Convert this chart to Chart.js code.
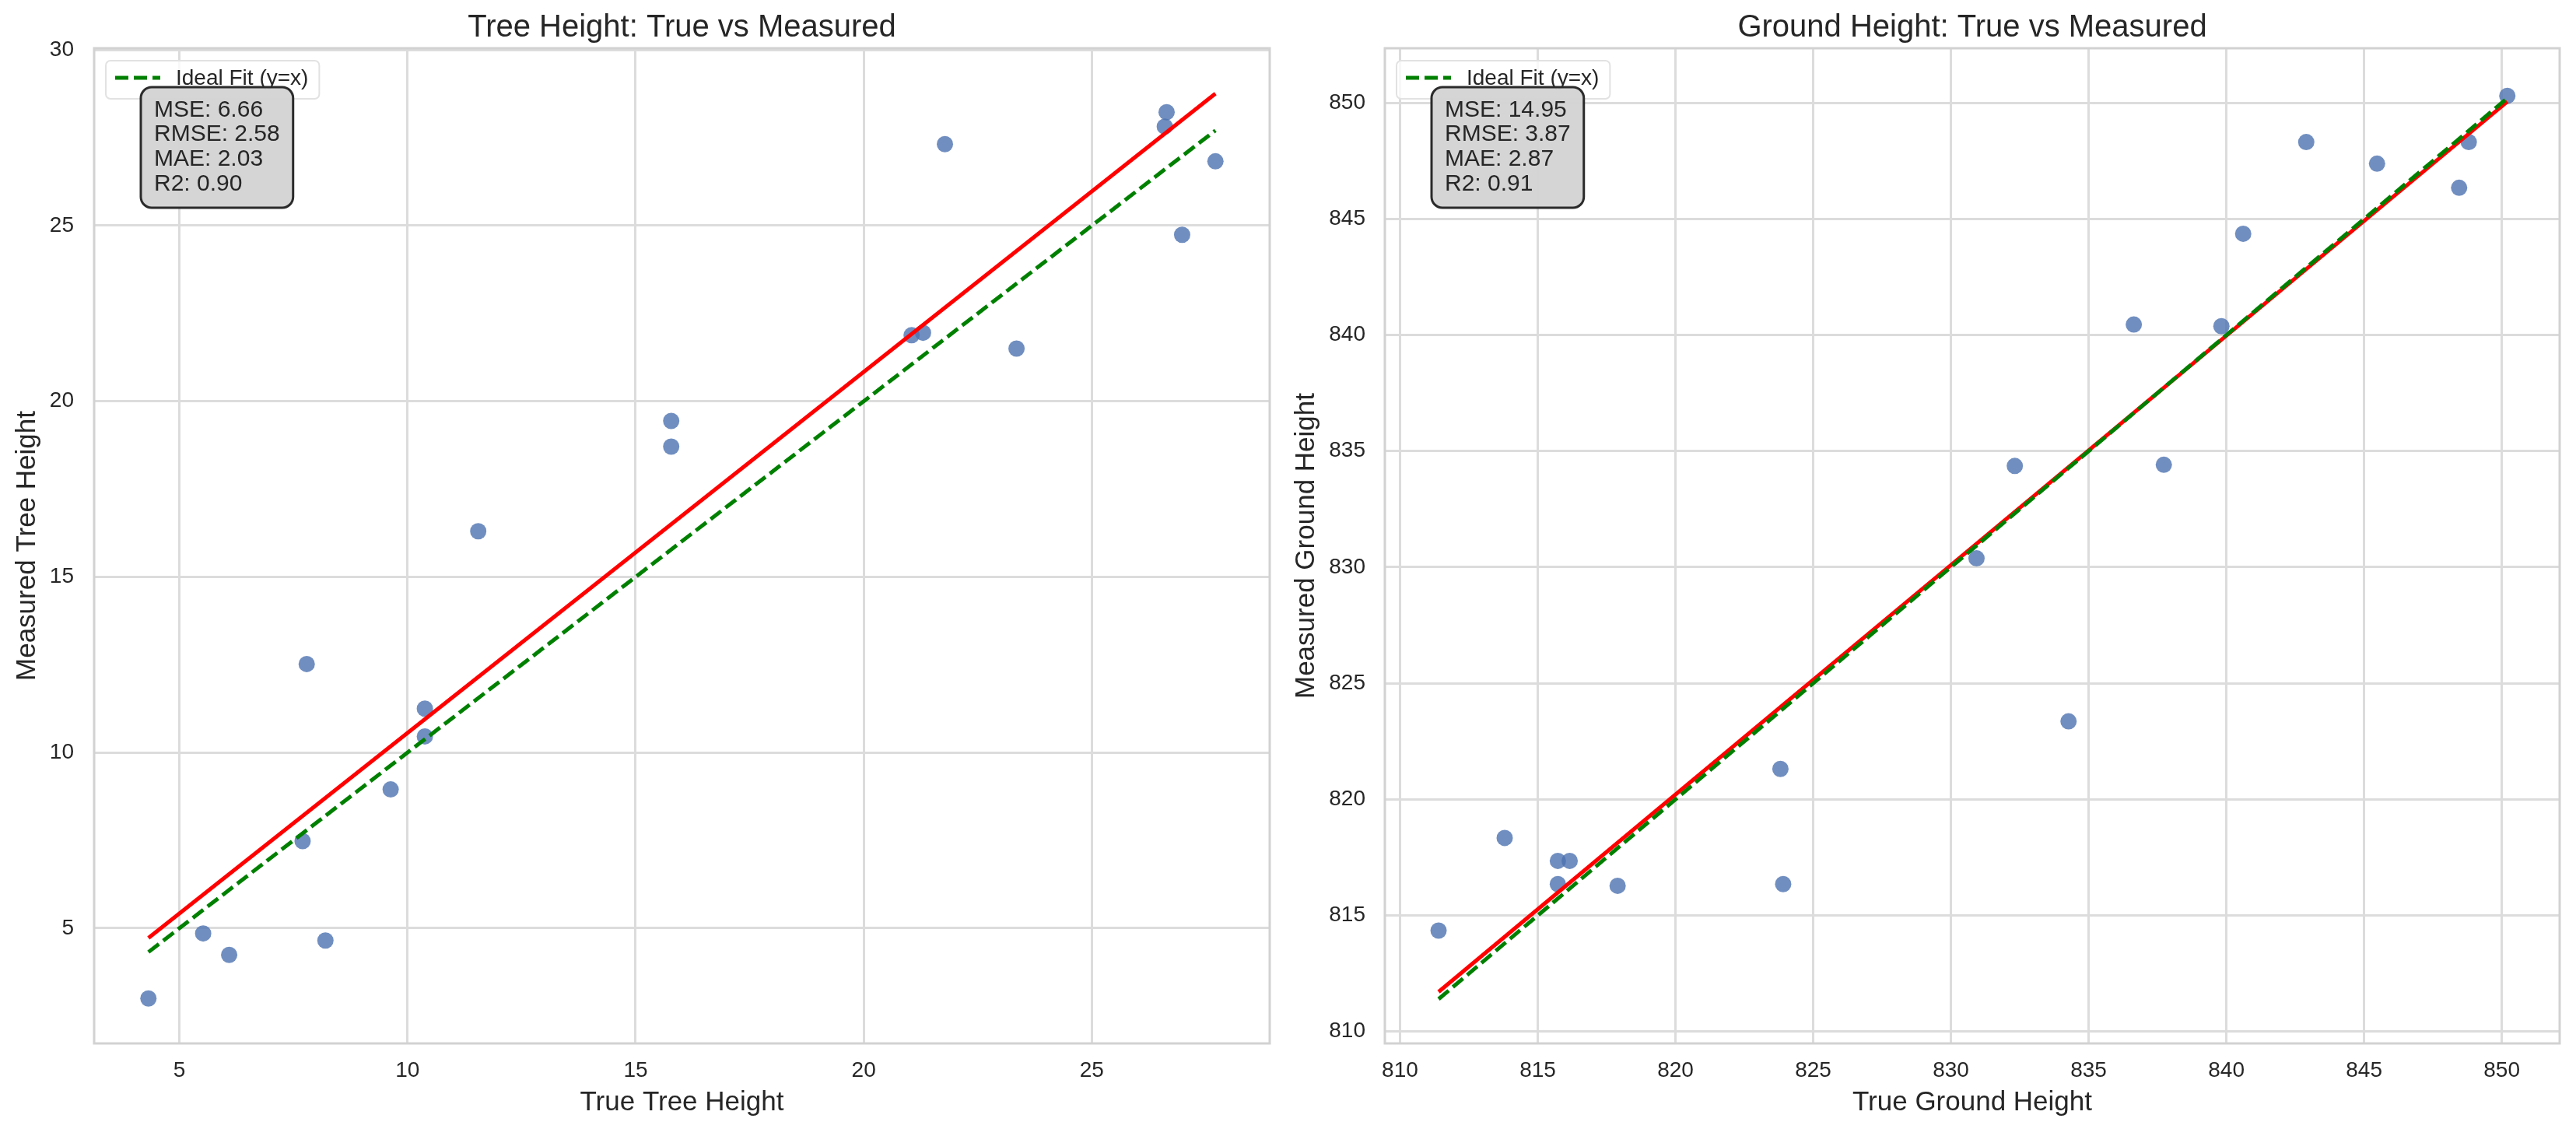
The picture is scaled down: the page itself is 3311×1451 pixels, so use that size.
<!DOCTYPE html>
<html>
<head>
<meta charset="utf-8">
<title>Tree and Ground Height: True vs Measured</title>
<script src="https://cdn.jsdelivr.net/npm/chart.js@4.4.1/dist/chart.umd.min.js"></script>
<style>
  html, body { margin: 0; padding: 0; background: #ffffff; }
  #wrap { position: relative; width: 3311px; height: 1451px; }
  canvas { position: absolute; top: 0; }
  #treeChart { left: 0; }
  #groundChart { left: 1655px; }
</style>
</head>
<body>
<div id="wrap">
  <canvas id="treeChart" width="1655" height="1451"></canvas>
  <canvas id="groundChart" width="1656" height="1451"></canvas>
</div>
<script>
// ---- Tree height panel data ----
const treeTrue = [15.78, 15.78, 11.55, 21.78, 26.64, 26.60, 27.71, 26.98, 21.05, 21.30,
                  23.35, 7.79, 10.38, 10.38, 9.63, 7.70, 5.52, 6.09, 8.20, 4.32];
const treeMeasured = [19.44, 18.71, 16.30, 27.32, 28.23, 27.82, 26.83, 24.74, 21.88, 21.95,
                      21.50, 12.52, 11.25, 10.46, 8.95, 7.48, 4.85, 4.24, 4.65, 3.00];
const treeFitX = [4.32, 27.71];
const treeFitY = [4.72, 28.76];
const treeIdeal = [4.32, 27.71];
const treeXTicks = [5, 10, 15, 20, 25];
const treeYTicks = [5, 10, 15, 20, 25, 30];
const treeStats = ['MSE: 6.66', 'RMSE: 2.58', 'MAE: 2.03', 'R2: 0.90'];

// ---- Ground height panel data ----
const groundTrue = [850.20, 842.90, 848.80, 845.47, 848.45, 840.61, 836.64, 839.82, 832.32, 837.73,
                    830.93, 823.81, 823.91, 813.80, 815.73, 816.16, 815.73, 817.90, 811.40, 834.27];
const groundMeasured = [850.30, 848.31, 848.31, 847.38, 846.34, 844.36, 840.45, 840.38, 834.36, 834.41,
                        830.38, 821.31, 816.35, 818.34, 817.35, 817.35, 816.35, 816.28, 814.35, 823.36];
const groundFitX = [811.40, 850.20];
const groundFitY = [811.71, 850.05];
const groundIdeal = [811.40, 850.20];
const groundXTicks = [810, 815, 820, 825, 830, 835, 840, 845, 850];
const groundYTicks = [810, 815, 820, 825, 830, 835, 840, 845, 850];
const groundStats = ['MSE: 14.95', 'RMSE: 3.87', 'MAE: 2.87', 'R2: 0.91'];

const FONT = "'Liberation Sans', Arial, sans-serif";
const TEXT_COLOR = '#262626';
const GRID_COLOR = '#dcdcdc';

Chart.defaults.font.family = FONT;
Chart.defaults.color = TEXT_COLOR;

/**
 * Rounded rectangle path (falls back if ctx.roundRect is missing)
 */
function roundedRect(ctx, x, y, w, h, r) {
    ctx.beginPath();
    ctx.moveTo(x + r, y);
    ctx.lineTo(x + w - r, y);
    ctx.arcTo(x + w, y, x + w, y + r, r);
    ctx.lineTo(x + w, y + h - r);
    ctx.arcTo(x + w, y + h, x + w - r, y + h, r);
    ctx.lineTo(x + r, y + h);
    ctx.arcTo(x, y + h, x, y + h - r, r);
    ctx.lineTo(x, y + r);
    ctx.arcTo(x, y, x + r, y, r);
    ctx.closePath();
}

/**
 * Draws the frame, legend box, metrics box and the panel title
 */
const panelDecor = {
    id: 'panelDecor',
    beforeDatasetsDraw(chart) {
        const { ctx, chartArea: a } = chart;
        ctx.save();
        ctx.strokeStyle = '#d2d2d2';
        ctx.lineWidth = 3;
        ctx.strokeRect(a.left, a.top, a.right - a.left, a.bottom - a.top);
        ctx.restore();
    },
    afterDatasetsDraw(chart, args, opts) {
        const { ctx, chartArea: a } = chart;
        const ideal = chart.data.datasets.find(d => d.label);

        // legend
        ctx.save();
        ctx.font = '28px ' + FONT;
        const lw = ctx.measureText(ideal.label).width;
        const lx = a.left + 15, ly = a.top + 16, lWidth = lw + 104, lHeight = 49;
        roundedRect(ctx, lx, ly, lWidth, lHeight, 6);
        ctx.fillStyle = 'rgba(255,255,255,0.8)';
        ctx.fill();
        ctx.strokeStyle = '#e2e2e2';
        ctx.lineWidth = 2;
        ctx.stroke();
        ctx.beginPath();
        ctx.setLineDash(ideal.borderDash);
        ctx.strokeStyle = ideal.borderColor;
        ctx.lineWidth = ideal.borderWidth;
        ctx.moveTo(lx + 12, ly + 22);
        ctx.lineTo(lx + 70, ly + 22);
        ctx.stroke();
        ctx.setLineDash([]);
        ctx.fillStyle = TEXT_COLOR;
        ctx.textBaseline = 'alphabetic';
        ctx.fillText(ideal.label, lx + 90, ly + 31);
        ctx.restore();

        // metrics box
        ctx.save();
        ctx.font = '30px ' + FONT;
        const sw = Math.max(...opts.stats.map(s => ctx.measureText(s).width));
        const sx = a.left + 60, sy = a.top + 50, sWidth = sw + 34, sHeight = 155;
        roundedRect(ctx, sx, sy, sWidth, sHeight, 14);
        ctx.fillStyle = 'rgba(211,211,211,0.95)';
        ctx.fill();
        ctx.strokeStyle = '#2b2b2b';
        ctx.lineWidth = 3;
        ctx.stroke();
        ctx.fillStyle = TEXT_COLOR;
        opts.stats.forEach((line, i) => {
            ctx.fillText(line, sx + 17, sy + 37.5 + i * 31.8);
        });
        ctx.restore();
    },
    afterDraw(chart, args, opts) {
        const { ctx, chartArea: a } = chart;
        ctx.save();
        ctx.font = '40px ' + FONT;
        ctx.fillStyle = TEXT_COLOR;
        ctx.textAlign = 'center';
        ctx.textBaseline = 'alphabetic';
        ctx.fillText(opts.title, (a.left + a.right) / 2, 47);
        ctx.restore();
    }
};

/**
 * Pin an axis box to a fixed size so the plot area lands where it should
 */
function fixedBox(size) {
    return function(scale) {
        if (scale.isHorizontal()) scale.height = size;
        else scale.width = size;
        scale.paddingTop = 0;
        scale.paddingBottom = 0;
        scale.paddingLeft = 0;
        scale.paddingRight = 0;
    };
}

function useTicks(values) {
    return function(scale) {
        scale.ticks = values.map(v => ({ value: v }));
    };
}

/**
 * Build one scatter panel
 */
function buildPanel(canvasId, cfg) {
    const ctx = document.getElementById(canvasId);
    return new Chart(ctx, {
        type: 'scatter',
        data: {
            datasets: [{
                label: 'Ideal Fit (y=x)',
                type: 'line',
                data: cfg.ideal.map(v => ({ x: v, y: v })),
                borderColor: 'green',
                borderWidth: 5,
                borderDash: [17, 7],
                pointRadius: 0,
                fill: false,
                order: 1
            }, {
                label: '',
                type: 'line',
                data: cfg.fitX.map((v, i) => ({ x: v, y: cfg.fitY[i] })),
                borderColor: 'red',
                borderWidth: 5,
                pointRadius: 0,
                fill: false,
                order: 2
            }, {
                label: '',
                data: cfg.xs.map((v, i) => ({ x: v, y: cfg.ys[i] })),
                backgroundColor: 'rgba(76,114,176,0.8)',
                borderWidth: 0,
                pointRadius: 10.5,
                pointHoverRadius: 10.5,
                order: 3
            }]
        },
        options: {
            responsive: false,
            animation: false,
            devicePixelRatio: 1,
            layout: { padding: { left: 0, right: cfg.padRight, top: 62, bottom: 0 } },
            plugins: {
                legend: { display: false },
                tooltip: { enabled: false },
                panelDecor: { title: cfg.title, stats: cfg.stats }
            },
            scales: {
                x: {
                    type: 'linear',
                    min: cfg.xRange[0],
                    max: cfg.xRange[1],
                    afterBuildTicks: useTicks(cfg.xTicks),
                    afterFit: fixedBox(110),
                    grid: { color: GRID_COLOR, lineWidth: 3, drawTicks: false },
                    border: { display: false },
                    ticks: { font: { size: 28 }, color: TEXT_COLOR, padding: 18, maxRotation: 0 },
                    title: {
                        display: true,
                        text: cfg.xLabel,
                        font: { size: 35 },
                        color: TEXT_COLOR,
                        padding: { top: 0, bottom: 12.5 }
                    }
                },
                y: {
                    type: 'linear',
                    min: cfg.yRange[0],
                    max: cfg.yRange[1],
                    afterBuildTicks: useTicks(cfg.yTicks),
                    afterFit: fixedBox(cfg.yWidth),
                    grid: { color: GRID_COLOR, lineWidth: 3, drawTicks: false },
                    border: { display: false },
                    ticks: { font: { size: 28 }, color: TEXT_COLOR, padding: cfg.yTickPad },
                    title: {
                        display: true,
                        text: cfg.yLabel,
                        font: { size: 35 },
                        color: TEXT_COLOR,
                        padding: { top: cfg.yTitlePad, bottom: 0 }
                    }
                }
            }
        },
        plugins: [panelDecor]
    });
}

document.addEventListener('DOMContentLoaded', function() {
    buildPanel('treeChart', {
        title: 'Tree Height: True vs Measured',
        xLabel: 'True Tree Height',
        yLabel: 'Measured Tree Height',
        xs: treeTrue,
        ys: treeMeasured,
        fitX: treeFitX,
        fitY: treeFitY,
        ideal: treeIdeal,
        xTicks: treeXTicks,
        yTicks: treeYTicks,
        stats: treeStats,
        xRange: [3.13, 28.9],
        yRange: [1.72, 30.05],
        yWidth: 121,
        yTickPad: 26,
        yTitlePad: 14,
        padRight: 23
    });

    buildPanel('groundChart', {
        title: 'Ground Height: True vs Measured',
        xLabel: 'True Ground Height',
        yLabel: 'Measured Ground Height',
        xs: groundTrue,
        ys: groundMeasured,
        fitX: groundFitX,
        fitY: groundFitY,
        ideal: groundIdeal,
        xTicks: groundXTicks,
        yTicks: groundYTicks,
        stats: groundStats,
        xRange: [809.45, 852.1],
        yRange: [809.49, 852.35],
        yWidth: 125,
        yTickPad: 25,
        yTitlePad: 3.5,
        padRight: 21
    });
});
</script>
</body>
</html>
